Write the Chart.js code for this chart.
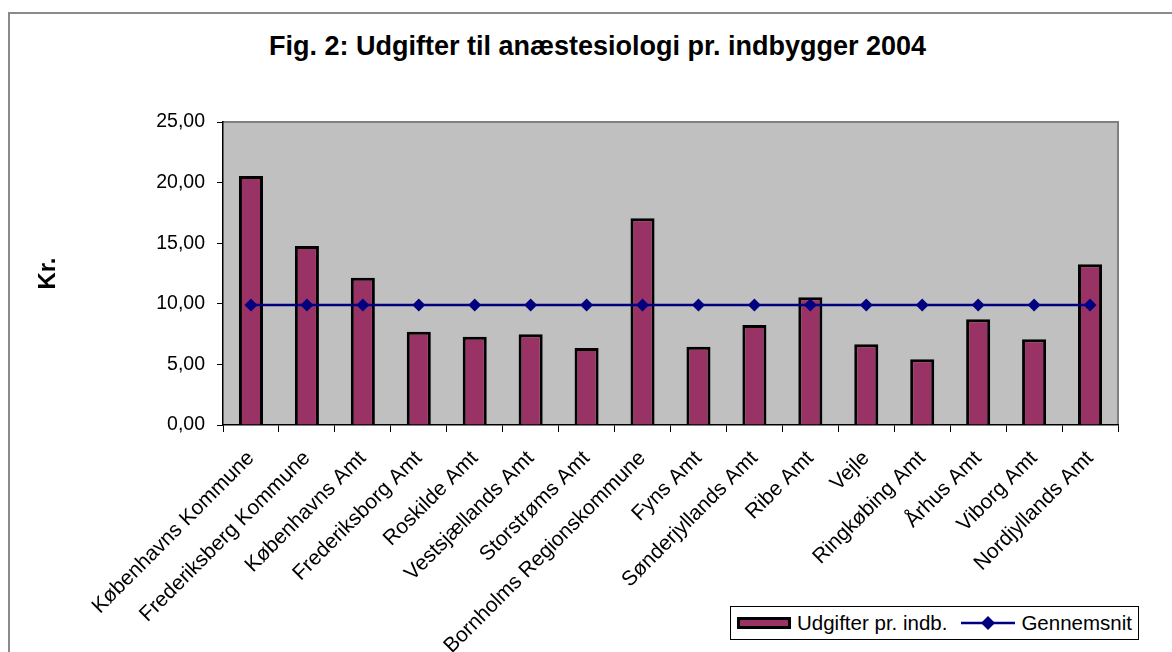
<!DOCTYPE html>
<html lang="da">
<head>
  <meta charset="UTF-8">
  <title>Udgifter til anæstesiologi pr. indbygger 2004</title>
  <script src="https://cdn.jsdelivr.net/npm/chart.js"></script>
  <style>
    body { margin: 0; background: #fff; overflow: hidden; font-family: "Liberation Sans", Arial, sans-serif; }
    #wrap { position: relative; width: 1172px; height: 652px; }
    #frame { position: absolute; left: 8px; top: 12px; width: 1200px; height: 700px; border: 2px solid #8a8a8a; }
    #title { position: absolute; left: 0; width: 1195px; top: 33px; line-height: 27px; text-align: center;
             font-size: 27px; font-weight: bold; color: #000; }
    #legend { position: absolute; left: 730px; top: 606px; width: 407px; height: 32px; border: 1px solid #000; background: #fff;
              display: flex; align-items: center; font-size: 20.5px; color: #000; white-space: nowrap; }
    #legend .item { display: flex; align-items: center; margin-left: 6px; }
    #legend svg { margin-right: 6px; }
  </style>
</head>
<body>
  <div id="wrap">
    <div id="frame"></div>
    <div id="title">Fig. 2: Udgifter til anæstesiologi pr. indbygger 2004</div>
    <canvas id="chart" width="1172" height="652" style="position:absolute;left:0;top:0;"></canvas>
    <div id="legend">
      <div class="item">
        <svg width="54" height="12"><rect x="1.5" y="1.5" width="51" height="9" fill="#993366" stroke="#000" stroke-width="3"/></svg>
        <span>Udgifter pr. indb.</span>
      </div>
      <div class="item" style="margin-left:14px;">
        <svg width="54" height="16"><line x1="0" y1="8" x2="54" y2="8" stroke="#000080" stroke-width="2.5"/><polygon points="27,1 34,8 27,15 20,8" fill="#000080"/></svg>
        <span>Gennemsnit</span>
      </div>
    </div>
  </div>
  <script>
    const regions = ['Københavns Kommune', 'Frederiksberg Kommune', 'Københavns Amt', 'Frederiksborg Amt',
      'Roskilde Amt', 'Vestsjællands Amt', 'Storstrøms Amt', 'Bornholms Regionskommune', 'Fyns Amt',
      'Sønderjyllands Amt', 'Ribe Amt', 'Vejle', 'Ringkøbing Amt', 'Århus Amt', 'Viborg Amt', 'Nordjyllands Amt'];
    const udgifter = [20.54, 14.77, 12.15, 7.70, 7.29, 7.48, 6.35, 17.05, 6.46, 8.25, 10.54, 6.66, 5.42, 8.72, 7.07, 13.26];
    const gennemsnit = [9.90, 9.90, 9.90, 9.90, 9.90, 9.90, 9.90, 9.90, 9.90, 9.90, 9.90, 9.90, 9.90, 9.90, 9.90, 9.90];

    const FONT = '"Liberation Sans", Arial, sans-serif';

    // grey plot area with a grey frame on top/right, like the old excel chart
    const plotBg = {
      id: 'plotBg',
      beforeDraw(chart) {
        const a = chart.chartArea, ctx = chart.ctx;
        ctx.save();
        ctx.fillStyle = '#c0c0c0';
        ctx.fillRect(a.left, a.top, a.right - a.left, a.bottom - a.top);
        ctx.strokeStyle = '#808080';
        ctx.lineWidth = 2;
        ctx.beginPath();
        ctx.moveTo(a.left, a.top);
        ctx.lineTo(a.right, a.top);
        ctx.lineTo(a.right, a.bottom);
        ctx.stroke();
        ctx.restore();
      }
    };

    new Chart(document.getElementById('chart'), {
      data: {
        labels: regions,
        datasets: [
          {
            type: 'line',
            label: 'Gennemsnit',
            data: gennemsnit,
            borderColor: '#000080',
            backgroundColor: '#000080',
            borderWidth: 2.5,
            pointStyle: 'rectRot',
            pointRadius: 6.5,
            pointBorderWidth: 0,
            order: 0
          },
          {
            type: 'bar',
            label: 'Udgifter pr. indb.',
            data: udgifter,
            backgroundColor: '#993366',
            borderColor: '#000',
            borderWidth: 3,
            barPercentage: 0.43,
            categoryPercentage: 1,
            order: 1
          }
        ]
      },
      options: {
        responsive: false,
        animation: false,
        layout: { padding: { left: 0, right: 54, top: 122, bottom: 0 } },
        plugins: {
          legend: { display: false },
          tooltip: { enabled: false }
        },
        scales: {
          x: {
            offset: true,
            border: { color: '#000', width: 1.5 },
            grid: { offset: true, drawOnChartArea: false, drawTicks: true, tickLength: 7, color: '#000' },
            ticks: {
              color: '#000', font: { family: FONT, size: 21 },
              minRotation: 45, maxRotation: 45, autoSkip: false, padding: 14
            },
            afterFit(scale) { scale.height = 227; }
          },
          y: {
            min: 0, max: 25,
            border: { color: '#000', width: 1.5 },
            grid: { drawOnChartArea: false, drawTicks: true, tickLength: 6, color: '#000' },
            ticks: {
              stepSize: 5, color: '#000', padding: 12,
              font: { family: FONT, size: 19.5 },
              callback: v => v.toFixed(2).replace('.', ',')
            },
            title: {
              display: true, text: 'Kr.', color: '#000',
              font: { family: FONT, size: 24, weight: 'bold' },
              padding: { top: 34, bottom: 0 }
            },
            afterFit(scale) { scale.width = 223; }
          }
        }
      },
      plugins: [plotBg]
    });
  </script>
</body>
</html>
